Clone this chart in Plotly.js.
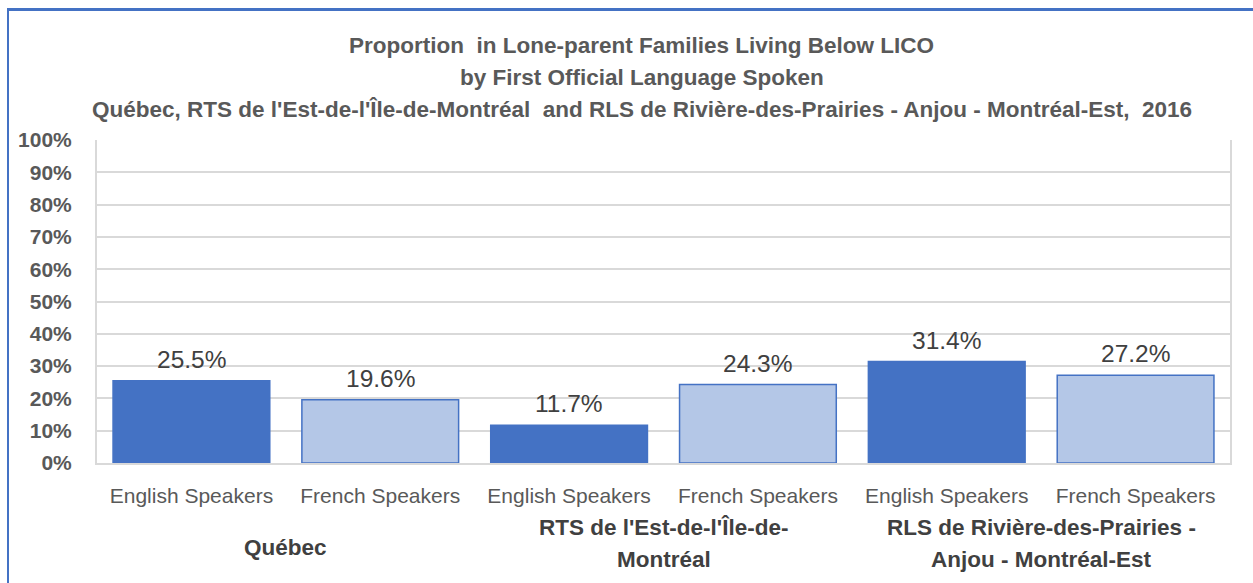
<!DOCTYPE html>
<html>
<head>
<meta charset="utf-8">
<script src="https://cdn.plot.ly/plotly-3.0.1.min.js"></script>
<style>
  body { margin: 0; background: #fff; }
  #frame { position: absolute; left: 7px; top: 8px; width: 1300px; height: 700px;
           border-left: 2px solid #4472c4; border-top: 3px solid #4472c4; pointer-events: none; }
</style>
</head>
<body>
<div id="chart" style="width:1253px;height:583px;"></div>
<div id="frame"></div>
<script>
// chart values
var speakers = ['English Speakers', 'French Speakers', 'English Speakers', 'French Speakers', 'English Speakers', 'French Speakers']
var values = [25.5, 19.6, 11.7, 24.3, 31.4, 27.2]
var barColors = ['#4472c4', '#b4c7e7', '#4472c4', '#b4c7e7', '#4472c4', '#b4c7e7']
var groupLines = [
  ['Québec'],
  ["RTS de l'Est-de-l'Île-de-", 'Montréal'],
  ['RLS de Rivière-des-Prairies -', 'Anjou - Montréal-Est']
]
var titleLines = [
  'Proportion  in Lone-parent Families Living Below LICO',
  'by First Official Language Spoken',
  "Québec, RTS de l'Est-de-l'Île-de-Montréal  and RLS de Rivière-des-Prairies - Anjou - Montréal-Est,  2016"
]

var font = 'Liberation Sans, Arial, sans-serif'
var grey = '#595959'
var positions = speakers.map((s, i) => i)

var trace = {
  type: 'bar',
  x: positions,
  y: values,
  width: 0.83,
  marker: { color: barColors, line: { color: '#4472c4', width: 1.5 } },
  hoverinfo: 'skip'
}

var annotations = []

// data labels above bars
values.forEach((v, i) => {
  annotations.push({
    x: i, y: v, xref: 'x', yref: 'y', text: v.toFixed(1) + '%',
    showarrow: false, yanchor: 'bottom', yshift: 6,
    font: { family: font, size: 24.5, color: '#404040' }
  })
})

// group labels under the speaker labels (pixel centres of each line)
groupLines.forEach((lines, g) => {
  var centers = lines.length == 1 ? [547] : [527, 559]
  lines.forEach((t, k) => {
    annotations.push({
      x: g * 2 + 0.5, y: 0, xref: 'x', yref: 'paper', text: '<b>' + t + '</b>',
      showarrow: false, yanchor: 'middle', yshift: -(centers[k] - 463),
      font: { family: font, size: 22.5, color: '#404040' }
    })
  })
})

// three-line title, y=1 of paper sits at pixel 140
var titleY = [45, 77, 109]
titleLines.forEach((t, k) => {
  annotations.push({
    x: 0.481, y: 1, xref: 'paper', yref: 'paper', text: '<b>' + t + '</b>',
    showarrow: false, yanchor: 'middle', yshift: 140 - titleY[k],
    font: { family: font, size: 22.5, color: grey }
  })
})

var layout = {
  width: 1253,
  height: 583,
  margin: { l: 97, r: 23, t: 140, b: 120 },
  paper_bgcolor: 'white',
  plot_bgcolor: 'white',
  showlegend: false,
  xaxis: {
    range: [-0.5, 5.5],
    tickvals: positions,
    ticktext: speakers,
    ticks: '',
    ticklabelstandoff: 13,
    tickfont: { family: font, size: 21, color: grey },
    showgrid: false,
    zeroline: false,
    showline: true,
    linecolor: '#d9d9d9',
    linewidth: 2,
    fixedrange: true
  },
  yaxis: {
    range: [0, 100],
    dtick: 10,
    ticksuffix: '%',
    ticks: '',
    ticklabelstandoff: 19,
    tickfont: { family: font, size: 21, color: grey, weight: 'bold' },
    gridcolor: '#d9d9d9',
    gridwidth: 2,
    zeroline: false,
    showline: true,
    mirror: true,
    linecolor: '#d9d9d9',
    linewidth: 2,
    fixedrange: true
  },
  annotations: annotations
}

Plotly.newPlot('chart', [trace], layout, { displayModeBar: false, staticPlot: true })
</script>
</body>
</html>
